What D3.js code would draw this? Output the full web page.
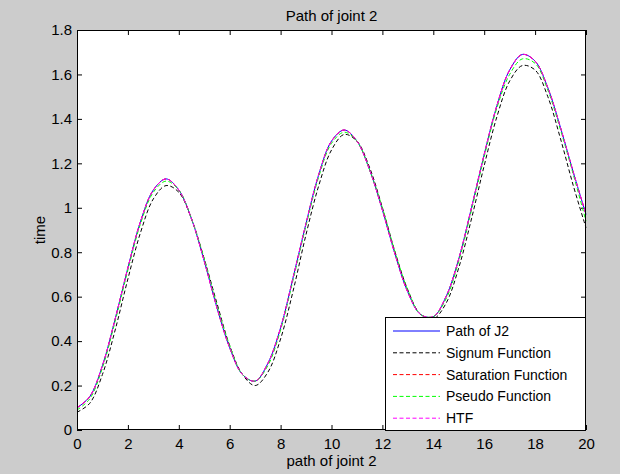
<!DOCTYPE html>
<html>
<head>
<meta charset="utf-8">
<script src="https://cdn.jsdelivr.net/npm/d3@7"></script>
<style>
  body { margin: 0; background: #cccccc; }
  text { font-family: "Liberation Sans", Arial, sans-serif; fill: #000; }
</style>
</head>
<body>
<script>
// x positions of the samples (path of joint 2)
var xs = [0, 0.5, 1, 1.5, 2, 2.5, 3, 3.5, 4, 4.5, 5, 5.5, 6, 6.5, 7, 7.5, 8, 8.5, 9, 9.5,
  10, 10.5, 11, 11.5, 12, 12.5, 13, 13.5, 14, 14.5, 15, 15.5, 16, 16.5, 17, 17.5, 18, 18.5, 19, 19.5, 20];

var pathJ2 = [0.10, 0.15, 0.29, 0.50, 0.73, 0.94, 1.08, 1.13, 1.08, 0.95, 0.76, 0.55, 0.37, 0.25, 0.22, 0.30, 0.46, 0.69, 0.93, 1.15,
  1.30, 1.35, 1.30, 1.17, 0.99, 0.79, 0.62, 0.52, 0.51, 0.60, 0.77, 1.00, 1.24, 1.46, 1.62, 1.69, 1.66, 1.54, 1.36, 1.16, 0.97];
var signum = [0.08, 0.12, 0.25, 0.45, 0.68, 0.89, 1.04, 1.10, 1.07, 0.95, 0.77, 0.57, 0.38, 0.25, 0.20, 0.26, 0.41, 0.63, 0.88, 1.10,
  1.26, 1.33, 1.30, 1.18, 1.00, 0.80, 0.63, 0.52, 0.50, 0.57, 0.73, 0.95, 1.19, 1.41, 1.57, 1.64, 1.62, 1.50, 1.31, 1.10, 0.91];
var saturation = [0.10, 0.15, 0.29, 0.50, 0.73, 0.94, 1.08, 1.13, 1.08, 0.95, 0.76, 0.55, 0.37, 0.25, 0.22, 0.30, 0.46, 0.69, 0.93, 1.15,
  1.30, 1.35, 1.30, 1.17, 0.99, 0.79, 0.62, 0.52, 0.51, 0.60, 0.77, 1.00, 1.24, 1.46, 1.62, 1.69, 1.66, 1.54, 1.36, 1.16, 0.97];
var pseudo = [0.09, 0.14, 0.28, 0.49, 0.72, 0.93, 1.07, 1.12, 1.08, 0.95, 0.77, 0.56, 0.38, 0.25, 0.22, 0.29, 0.45, 0.68, 0.92, 1.14,
  1.29, 1.34, 1.30, 1.17, 1.00, 0.80, 0.63, 0.52, 0.51, 0.59, 0.76, 0.99, 1.23, 1.45, 1.60, 1.67, 1.65, 1.53, 1.35, 1.15, 0.94];
var htf = [0.10, 0.15, 0.29, 0.50, 0.73, 0.94, 1.08, 1.13, 1.08, 0.95, 0.76, 0.55, 0.37, 0.25, 0.22, 0.30, 0.46, 0.69, 0.93, 1.15,
  1.30, 1.35, 1.30, 1.17, 0.99, 0.79, 0.62, 0.52, 0.51, 0.60, 0.77, 1.00, 1.24, 1.46, 1.62, 1.69, 1.66, 1.54, 1.36, 1.16, 0.97];

var seriesNames = ["Path of J2", "Signum Function", "Saturation Function", "Pseudo Function", "HTF"];
var seriesColors = ["#0000ff", "#000000", "#ff0000", "#00ff00", "#ff00ff"];
var seriesDash = [null, "4,2.5", "4,2.5", "4,2.5", "4,2.5"];

var xTicks = [0, 2, 4, 6, 8, 10, 12, 14, 16, 18, 20];
var yTicks = [0, 0.2, 0.4, 0.6, 0.8, 1, 1.2, 1.4, 1.6, 1.8];
var yTickLabels = ["0", "0.2", "0.4", "0.6", "0.8", "1", "1.2", "1.4", "1.6", "1.8"];

var build_chart = function() {
  var w = 620;
  var h = 474;
  var left = 77, right = 586, top = 30, bottom = 430;

  var x_scale = d3.scaleLinear().domain([0, 20]).range([left, right]);
  var y_scale = d3.scaleLinear().domain([0, 1.8]).range([bottom, top]);

  var svg = d3.select("body")
    .append("svg")
    .attr("width", w)
    .attr("height", h);

  svg.append("rect")
    .attr("x", 0).attr("y", 0)
    .attr("width", w).attr("height", h)
    .attr("fill", "#cccccc");

  svg.append("rect")
    .attr("x", left).attr("y", top)
    .attr("width", right - left).attr("height", bottom - top)
    .attr("fill", "#ffffff");

  // axes with inward ticks (MATLAB style), mirrored on top/right
  var fmtY = function(d) { return yTickLabels[yTicks.indexOf(d)]; };
  var mk = function(g) {
    g.select(".domain").remove();
    g.selectAll("line").attr("stroke", "#000");
    g.selectAll("text").style("font-size", "15px").attr("fill", "#000");
  };

  svg.append("g")
    .attr("transform", "translate(0," + bottom + ")")
    .call(d3.axisBottom(x_scale).tickValues(xTicks).tickFormat(d3.format("d"))
      .tickSizeInner(-5).tickSizeOuter(0).tickPadding(8))
    .call(mk);
  svg.append("g")
    .attr("transform", "translate(0," + top + ")")
    .call(d3.axisTop(x_scale).tickValues(xTicks).tickFormat("")
      .tickSizeInner(-5).tickSizeOuter(0))
    .call(mk);
  svg.append("g")
    .attr("transform", "translate(" + left + ",0)")
    .call(d3.axisLeft(y_scale).tickValues(yTicks).tickFormat(fmtY)
      .tickSizeInner(-5).tickSizeOuter(0).tickPadding(5))
    .call(mk);
  svg.append("g")
    .attr("transform", "translate(" + right + ",0)")
    .call(d3.axisRight(y_scale).tickValues(yTicks).tickFormat("")
      .tickSizeInner(-5).tickSizeOuter(0))
    .call(mk);

  // lines
  var allSeries = [pathJ2, signum, saturation, pseudo, htf];
  var line = d3.line()
    .x(function(d) { return x_scale(d[0]); })
    .y(function(d) { return y_scale(d[1]); })
    .curve(d3.curveCatmullRom);

  var plot = svg.append("g");
  allSeries.forEach(function(vals, i) {
    var pts = xs.map(function(x, j) { return [x, vals[j]]; });
    plot.append("path")
      .datum(pts)
      .attr("d", line)
      .attr("fill", "none")
      .attr("stroke", seriesColors[i])
      .attr("stroke-width", 1)
      .attr("stroke-dasharray", seriesDash[i]);
  });

  // box
  svg.append("rect")
    .attr("x", left + 0.5).attr("y", top + 0.5)
    .attr("width", right - left - 1).attr("height", bottom - top - 1)
    .attr("fill", "none")
    .attr("stroke", "#000");

  // titles
  svg.append("text")
    .attr("x", (left + right) / 2).attr("y", 21)
    .attr("text-anchor", "middle")
    .style("font-size", "15px")
    .text("Path of joint 2");
  svg.append("text")
    .attr("x", (left + right) / 2).attr("y", 466)
    .attr("text-anchor", "middle")
    .style("font-size", "15px")
    .text("path of joint 2");
  svg.append("text")
    .attr("transform", "translate(45," + ((top + bottom) / 2) + ") rotate(-90)")
    .attr("text-anchor", "middle")
    .style("font-size", "15px")
    .text("time");

  // legend
  var lg = svg.append("g");
  lg.append("rect")
    .attr("x", 385.5).attr("y", 317.5)
    .attr("width", 200).attr("height", 113)
    .attr("fill", "#ffffff")
    .attr("stroke", "#000");
  seriesNames.forEach(function(name, i) {
    var yy = 331 + i * 21.8;
    lg.append("line")
      .attr("x1", 393).attr("x2", 440)
      .attr("y1", yy).attr("y2", yy)
      .attr("stroke", seriesColors[i])
      .attr("stroke-dasharray", seriesDash[i]);
    lg.append("text")
      .attr("x", 446).attr("y", yy)
      .attr("dy", "0.35em")
      .style("font-size", "14px")
      .text(name);
  });
};

build_chart();
</script>
</body>
</html>
